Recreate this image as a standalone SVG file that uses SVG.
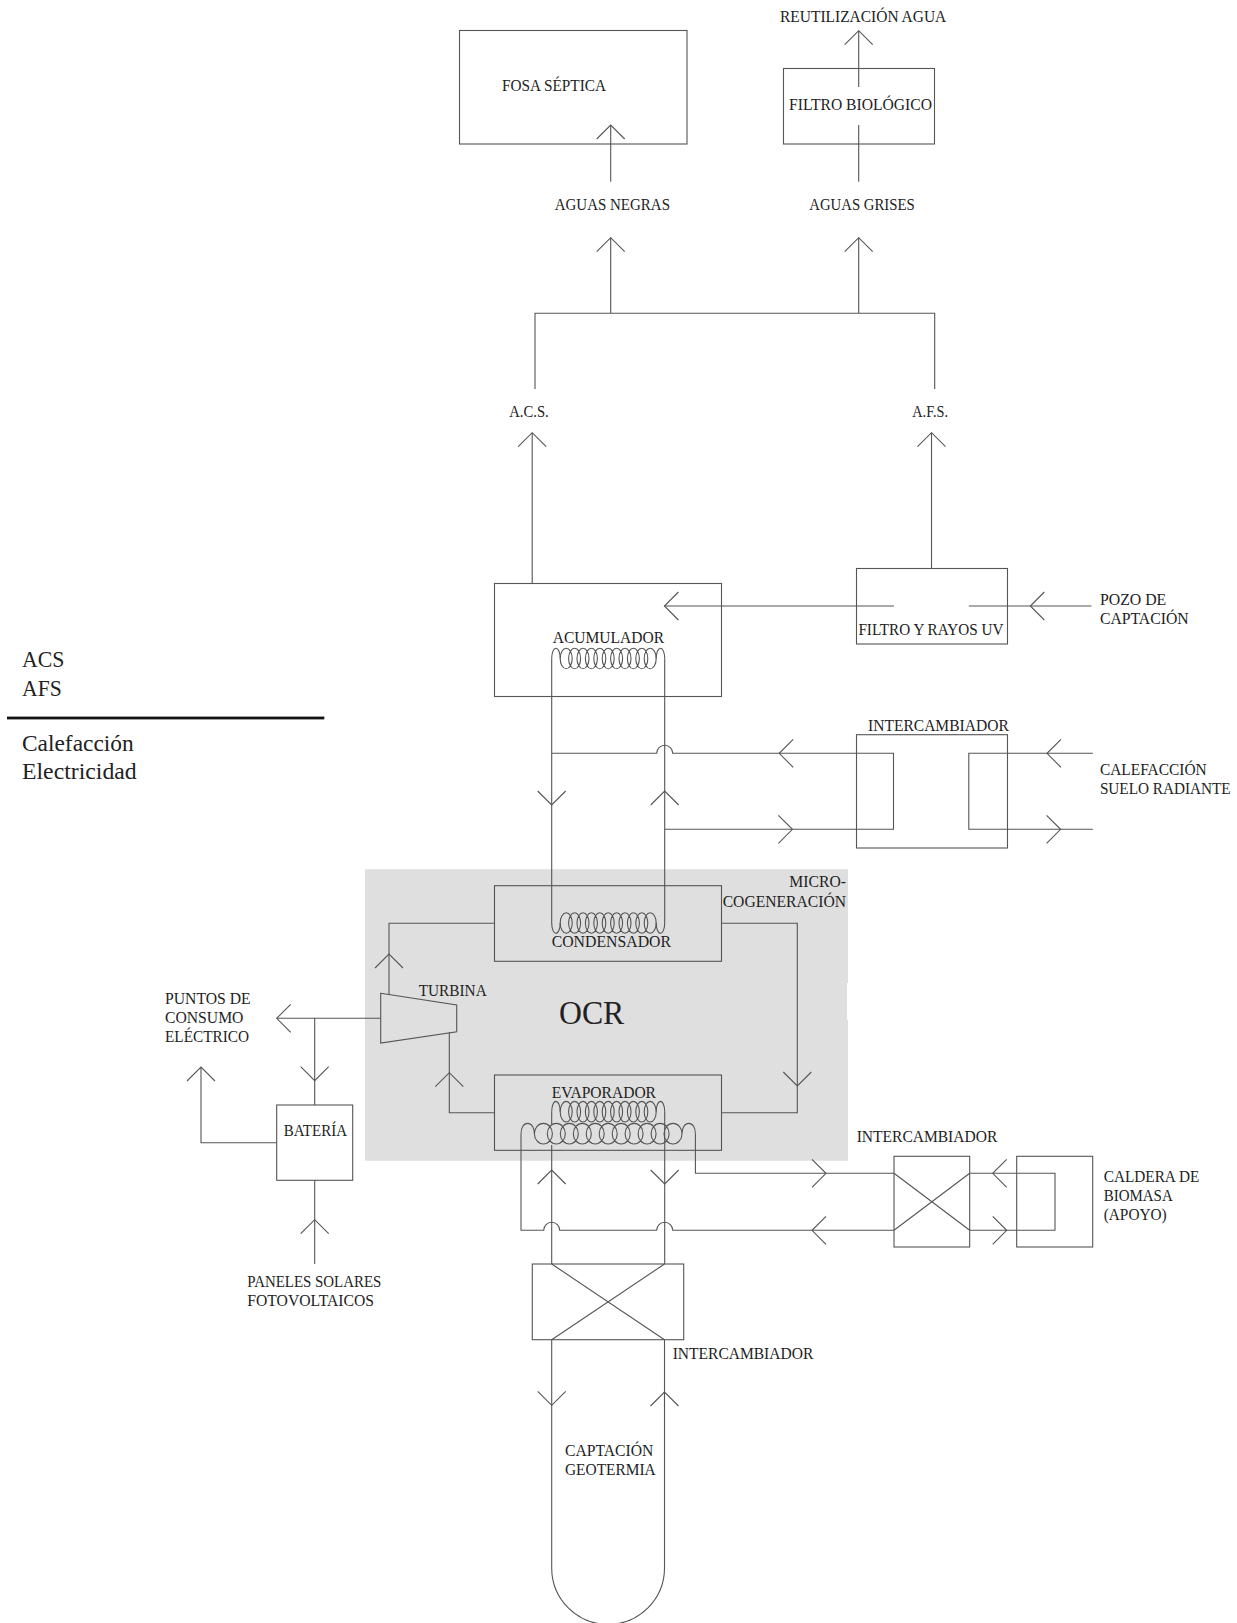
<svg xmlns="http://www.w3.org/2000/svg" width="1237" height="1623" viewBox="0 0 1237 1623">
<style>
.l{fill:none;stroke:#555;stroke-width:1.1}
.b{fill:none;stroke:#555;stroke-width:1.1}
.t{font-family:"Liberation Serif","Times New Roman",serif;font-size:16px;fill:#222}
.m{font-family:"Liberation Serif","Times New Roman",serif;font-size:24px;fill:#222}
</style>
<defs>
<path id="au" class="l" d="M-14,14L0,0L14,14"/>
<path id="ad" class="l" d="M-14,-14L0,0L14,-14"/>
<path id="al" class="l" d="M14,-14L0,0L14,14"/>
<path id="ar" class="l" d="M-14,-14L0,0L-14,14"/>
<g id="coilS" class="l">
<path class="l" d="M-56.5,0C-56.5,6 -54.5,10.3 -52.5,10.3C-49.5,10.3 -48,5 -48,0M56.5,0C56.5,6 54.5,10.3 52.5,10.3C49.5,10.3 48,5 48,0"/>
<path class="l" d="M-48,0a6,10.3 0 1 0 12,0a6,10.3 0 1 0 -12,0M-39.6,0a6,10.3 0 1 0 12,0a6,10.3 0 1 0 -12,0M-31.2,0a6,10.3 0 1 0 12,0a6,10.3 0 1 0 -12,0M-22.8,0a6,10.3 0 1 0 12,0a6,10.3 0 1 0 -12,0M-14.4,0a6,10.3 0 1 0 12,0a6,10.3 0 1 0 -12,0M-6,0a6,10.3 0 1 0 12,0a6,10.3 0 1 0 -12,0M2.4,0a6,10.3 0 1 0 12,0a6,10.3 0 1 0 -12,0M10.8,0a6,10.3 0 1 0 12,0a6,10.3 0 1 0 -12,0M19.2,0a6,10.3 0 1 0 12,0a6,10.3 0 1 0 -12,0M27.6,0a6,10.3 0 1 0 12,0a6,10.3 0 1 0 -12,0M36,0a6,10.3 0 1 0 12,0a6,10.3 0 1 0 -12,0"/>
</g>
<path id="coilL" class="l" d="M-87.2,0C-87.2,-6 -84.5,-10.3 -80.5,-10.3C-76,-10.3 -73.8,-5 -73.8,0M87.2,0C87.2,-6 84.5,-10.3 80.5,-10.3C76,-10.3 73.8,-5 73.8,0M-73.8,0a9,10.3 0 1 0 18,0a9,10.3 0 1 0 -18,0M-60.9,0a9,10.3 0 1 0 18,0a9,10.3 0 1 0 -18,0M-47.9,0a9,10.3 0 1 0 18,0a9,10.3 0 1 0 -18,0M-34.9,0a9,10.3 0 1 0 18,0a9,10.3 0 1 0 -18,0M-22,0a9,10.3 0 1 0 18,0a9,10.3 0 1 0 -18,0M-9,0a9,10.3 0 1 0 18,0a9,10.3 0 1 0 -18,0M4,0a9,10.3 0 1 0 18,0a9,10.3 0 1 0 -18,0M16.9,0a9,10.3 0 1 0 18,0a9,10.3 0 1 0 -18,0M29.9,0a9,10.3 0 1 0 18,0a9,10.3 0 1 0 -18,0M42.9,0a9,10.3 0 1 0 18,0a9,10.3 0 1 0 -18,0M55.8,0a9,10.3 0 1 0 18,0a9,10.3 0 1 0 -18,0"/>
</defs>

<path id="ocr-zone" fill="#dfdfdf" d="M365,869.3H848V983H847V1020H848V1160.7H365Z"/>

<g id="nodes">
<g id="fosa"><rect class="b" x="459.5" y="30.5" width="227.5" height="113.5"/><text class="t" x="502" y="91" textLength="104" lengthAdjust="spacingAndGlyphs">FOSA SÉPTICA</text></g>
<g id="filtro-bio"><rect class="b" x="783.5" y="68.5" width="151" height="75.5"/><text class="t" x="789" y="110" textLength="143" lengthAdjust="spacingAndGlyphs">FILTRO BIOLÓGICO</text></g>
<g id="acumulador"><rect class="b" x="494.5" y="583.5" width="227" height="113"/><text class="t" x="552.7" y="643.3" textLength="111.3" lengthAdjust="spacingAndGlyphs">ACUMULADOR</text><use href="#coilS" transform="translate(608.2,658.5) scale(1,-1)"/></g>
<g id="filtro-uv"><rect class="b" x="856.5" y="568.5" width="151" height="75.5"/><text class="t" x="858.4" y="635" textLength="145" lengthAdjust="spacingAndGlyphs">FILTRO Y RAYOS UV</text></g>
<g id="intercambiador-cal"><rect class="b" x="856.5" y="734.7" width="151" height="113.3"/><text class="t" x="868" y="730.7" textLength="140.8" lengthAdjust="spacingAndGlyphs">INTERCAMBIADOR</text></g>
<g id="condensador"><rect class="b" x="494.5" y="885.7" width="227" height="75.6"/><use href="#coilS" transform="translate(608.2,923)"/><text class="t" x="551.7" y="947" textLength="119.3" lengthAdjust="spacingAndGlyphs">CONDENSADOR</text></g>
<g id="evaporador"><rect class="b" x="494.5" y="1075" width="227" height="75.3"/><text class="t" x="551.7" y="1097.7" textLength="104.3" lengthAdjust="spacingAndGlyphs">EVAPORADOR</text><use href="#coilS" transform="translate(608.2,1111.7) scale(1,-1)"/><use href="#coilL" transform="translate(608.2,1133.7)"/></g>
<g id="turbina"><polygon class="b" points="380.7,993.3 456.7,1005 456.7,1031.7 380.7,1043"/><text class="t" x="418.7" y="995.7" textLength="68" lengthAdjust="spacingAndGlyphs">TURBINA</text></g>
<g id="bateria"><rect class="b" x="276.7" y="1105" width="76" height="75.3"/><text class="t" x="283.7" y="1136" textLength="63.3" lengthAdjust="spacingAndGlyphs">BATERÍA</text></g>
<g id="intercambiador-bio"><rect class="b" x="894" y="1156.3" width="75.7" height="90.7"/><path class="l" d="M894,1173.3L969.7,1230.3M894,1230.3L969.7,1173.3"/><text class="t" x="856.7" y="1142" textLength="140.6" lengthAdjust="spacingAndGlyphs">INTERCAMBIADOR</text></g>
<g id="caldera"><rect class="b" x="1016.7" y="1156.3" width="76" height="90.7"/></g>
<g id="intercambiador-geo"><rect class="b" x="532.3" y="1264" width="151.4" height="75.7"/><path class="l" d="M551.7,1264L664.5,1339.7M551.7,1339.7L664.5,1264"/><text class="t" x="672.7" y="1358.7" textLength="140.6" lengthAdjust="spacingAndGlyphs">INTERCAMBIADOR</text></g>
</g>

<g id="connectors">
<path class="l" d="M610.7,181.7V125"/><use href="#au" x="610.7" y="125"/>
<path class="l" d="M858.7,181.7V125M858.7,87V30.7"/><use href="#au" x="858.7" y="30.7"/>
<path class="l" d="M535,389V313.3H934.7V389M610.7,313.3V237.7M858.7,313.3V237.7"/><use href="#au" x="610.7" y="237.7"/><use href="#au" x="858.7" y="237.7"/>
<path class="l" d="M532.2,583.5V432.7"/><use href="#au" x="532.2" y="432.7"/>
<path class="l" d="M931.5,568.5V432.7"/><use href="#au" x="931.5" y="432.7"/>
<path class="l" d="M894,606H664.4"/><use href="#al" x="664.4" y="606"/>
<path class="l" d="M1091.4,606H968.8"/><use href="#al" x="1030.3" y="606"/>
<path class="l" d="M551.7,658.5V923M664.7,658.5V923"/>
<path class="l" d="M551.7,753.3H656.7a8,8 0 0 1 16,0H893.5V829.3H664.7"/>
<use href="#ad" x="551.7" y="805"/><use href="#au" x="664.7" y="791"/>
<use href="#al" x="779.2" y="753.3"/><use href="#ar" x="792.4" y="829.3"/>
<path class="l" d="M1092.9,753.3H968.8V829.3H1092.9"/>
<use href="#al" x="1047" y="753.3"/><use href="#ar" x="1060.6" y="829.3"/>
<path class="l" d="M389,994V923.3H494.5"/><use href="#au" x="389" y="954"/>
<path class="l" d="M449.3,1032.3V1112.7H494.5"/><use href="#au" x="449.3" y="1072.7"/>
<path class="l" d="M721.5,923.3H797.3V1112.7H721.5"/><use href="#ad" x="797.3" y="1086"/>
<path class="l" d="M380.7,1018.3H276.7M314.7,1018.3V1105"/><use href="#al" x="276.7" y="1018.3"/><use href="#ad" x="314.7" y="1080.7"/>
<path class="l" d="M276.7,1142.7H201V1067"/><use href="#au" x="201" y="1067"/>
<path class="l" d="M314.7,1180.3V1264"/><use href="#au" x="314.7" y="1219.7"/>
<path class="l" d="M551.7,1111.7V1124M551.7,1145V1264M664.7,1111.7V1264"/>
<use href="#au" x="551.7" y="1170"/><use href="#ad" x="664.7" y="1184"/>
<path class="l" d="M521,1133.7V1230.3H543.7a8,8 0 0 1 16,0H656.7a8,8 0 0 1 16,0H894"/>
<path class="l" d="M695.4,1133.7V1173.3H894"/>
<use href="#al" x="812" y="1230.3"/><use href="#ar" x="826" y="1173.3"/>
<path class="l" d="M969.7,1173.3H1055V1230.3H969.7"/>
<use href="#al" x="992.7" y="1173.3"/><use href="#ar" x="1006.7" y="1230.3"/>
<path class="l" d="M551.7,1339.7V1568A56.4,56.4 0 0 0 664.5,1568V1339.7"/>
<use href="#ad" x="551.7" y="1405.3"/><use href="#au" x="664.5" y="1392"/>
</g>

<g id="labels">
<text class="t" x="780" y="22" textLength="166.3" lengthAdjust="spacingAndGlyphs">REUTILIZACIÓN AGUA</text>
<text class="t" x="554.7" y="210" textLength="115.3" lengthAdjust="spacingAndGlyphs">AGUAS NEGRAS</text>
<text class="t" x="809.3" y="210" textLength="105.4" lengthAdjust="spacingAndGlyphs">AGUAS GRISES</text>
<text class="t" x="509.3" y="417.3" textLength="39.4" lengthAdjust="spacingAndGlyphs">A.C.S.</text>
<text class="t" x="912.3" y="417.3" textLength="35.7" lengthAdjust="spacingAndGlyphs">A.F.S.</text>
<text class="t" x="1099.9" y="605" textLength="66.4" lengthAdjust="spacingAndGlyphs">POZO DE</text>
<text class="t" x="1099.9" y="624" textLength="88.8" lengthAdjust="spacingAndGlyphs">CAPTACIÓN</text>
<text class="t" x="1099.9" y="775" textLength="106.8" lengthAdjust="spacingAndGlyphs">CALEFACCIÓN</text>
<text class="t" x="1099.9" y="794" textLength="130.8" lengthAdjust="spacingAndGlyphs">SUELO RADIANTE</text>
<text class="t" x="789.3" y="887.3" textLength="56.7" lengthAdjust="spacingAndGlyphs">MICRO-</text>
<text class="t" x="722.7" y="907" textLength="123.3" lengthAdjust="spacingAndGlyphs">COGENERACIÓN</text>
<text x="559" y="1023.8" font-family="Liberation Serif, Times New Roman, serif" font-size="33" fill="#222" textLength="65.3" lengthAdjust="spacingAndGlyphs">OCR</text>
<text class="t" x="165" y="1004" textLength="85.7" lengthAdjust="spacingAndGlyphs">PUNTOS DE</text>
<text class="t" x="165" y="1023" textLength="78.4" lengthAdjust="spacingAndGlyphs">CONSUMO</text>
<text class="t" x="165" y="1042" textLength="84" lengthAdjust="spacingAndGlyphs">ELÉCTRICO</text>
<text class="t" x="247.3" y="1287" textLength="134" lengthAdjust="spacingAndGlyphs">PANELES SOLARES</text>
<text class="t" x="247.3" y="1306" textLength="126.7" lengthAdjust="spacingAndGlyphs">FOTOVOLTAICOS</text>
<text class="t" x="1103.7" y="1182" textLength="95.6" lengthAdjust="spacingAndGlyphs">CALDERA DE</text>
<text class="t" x="1103.7" y="1201" textLength="69" lengthAdjust="spacingAndGlyphs">BIOMASA</text>
<text class="t" x="1103.7" y="1220" textLength="63" lengthAdjust="spacingAndGlyphs">(APOYO)</text>
<text class="t" x="565" y="1456" textLength="88.3" lengthAdjust="spacingAndGlyphs">CAPTACIÓN</text>
<text class="t" x="565" y="1475" textLength="90.7" lengthAdjust="spacingAndGlyphs">GEOTERMIA</text>
</g>

<g id="legend">
<text class="m" x="22" y="666.7" textLength="42.4" lengthAdjust="spacingAndGlyphs">ACS</text>
<text class="m" x="22" y="696" textLength="39.7" lengthAdjust="spacingAndGlyphs">AFS</text>
<rect x="7" y="716.6" width="317.3" height="2.8" fill="#111"/>
<text class="m" x="22" y="750.7" textLength="111.7" lengthAdjust="spacingAndGlyphs">Calefacción</text>
<text class="m" x="22" y="778.7" textLength="114.7" lengthAdjust="spacingAndGlyphs">Electricidad</text>
</g>
</svg>
